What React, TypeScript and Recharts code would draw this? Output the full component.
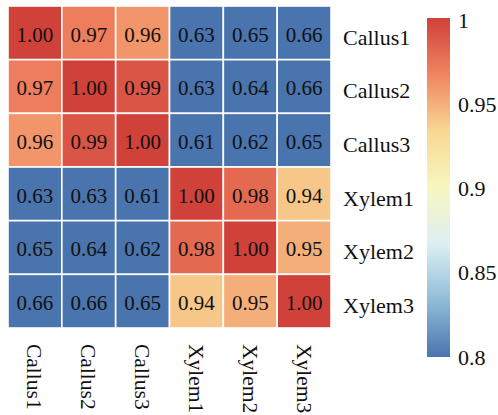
import { ScatterChart, Scatter, XAxis, YAxis, Customized } from "recharts";

const SAMPLES = ["Callus1", "Callus2", "Callus3", "Xylem1", "Xylem2", "Xylem3"];

// correlation rows, same order as SAMPLES
const CALLUS1 = [1.0, 0.97, 0.96, 0.63, 0.65, 0.66];
const CALLUS2 = [0.97, 1.0, 0.99, 0.63, 0.64, 0.66];
const CALLUS3 = [0.96, 0.99, 1.0, 0.61, 0.62, 0.65];
const XYLEM1 = [0.63, 0.63, 0.61, 1.0, 0.98, 0.94];
const XYLEM2 = [0.65, 0.64, 0.62, 0.98, 1.0, 0.95];
const XYLEM3 = [0.66, 0.66, 0.65, 0.94, 0.95, 1.0];
const ROWS = [CALLUS1, CALLUS2, CALLUS3, XYLEM1, XYLEM2, XYLEM3];

const SCALE_MIN = 0.8;
const SCALE_MAX = 1;
const SCALE_TICKS = [1, 0.95, 0.9, 0.85, 0.8];
// RdYlBu-like ramp, low -> high
const PALETTE = ["#4a74ad", "#90bcd8", "#dcf0f2", "#f7f7c0", "#f8d892", "#f08460", "#d0413a"];

const W = 498;
const H = 415;
const PLOT = { left: 8, top: 6, right: 331, bottom: 328 };
const Y_AXIS_W = 90;
const X_AXIS_H = 80;
const CELL_W = (PLOT.right - PLOT.left) / SAMPLES.length;
const CELL_H = (PLOT.bottom - PLOT.top) / SAMPLES.length;
const BAR = { x: 427, w: 23, top: 18, bottom: 357 };
const FONT = "Liberation Serif, Times New Roman, Times, serif";

function hexToRgb(h: string) {
  const n = parseInt(h.slice(1), 16);
  return [(n >> 16) & 255, (n >> 8) & 255, n & 255];
}

function colorFor(v: number) {
  const t = Math.max(0, Math.min(1, (v - SCALE_MIN) / (SCALE_MAX - SCALE_MIN)));
  const pos = t * (PALETTE.length - 1);
  const i = Math.min(PALETTE.length - 2, Math.floor(pos));
  const f = pos - i;
  const a = hexToRgb(PALETTE[i]);
  const b = hexToRgb(PALETTE[i + 1]);
  const c = a.map((av, k) => Math.round(av + (b[k] - av) * f));
  return `rgb(${c[0]},${c[1]},${c[2]})`;
}

const points = ROWS.flatMap((row, i) =>
  row.map((v, j) => ({ x: j + 0.5, y: i + 0.5, v }))
);
const centerTicks = SAMPLES.map((_, i) => i + 0.5);

function CellShape(props: any) {
  const { cx, cy, payload } = props;
  return (
    <g>
      <rect
        x={cx - CELL_W / 2}
        y={cy - CELL_H / 2}
        width={CELL_W}
        height={CELL_H}
        fill={colorFor(payload.v)}
        stroke="#fff"
        strokeWidth={1.6}
      />
      <text
        x={cx}
        y={cy + 1.5}
        dy="0.35em"
        textAnchor="middle"
        style={{ fontFamily: FONT, fontSize: 21 }}
        fill="#111"
      >
        {payload.v.toFixed(2)}
      </text>
    </g>
  );
}

function XTick(props: any) {
  const { x, payload } = props;
  const label = SAMPLES[Math.floor(payload.value)];
  const y0 = PLOT.bottom + 16;
  return (
    <text
      x={x}
      y={y0}
      dy="0.35em"
      transform={`rotate(90, ${x}, ${y0})`}
      textAnchor="start"
      style={{ fontFamily: FONT, fontSize: 21.5 }}
      fill="#111"
    >
      {label}
    </text>
  );
}

function YTick(props: any) {
  const { y, payload } = props;
  const label = SAMPLES[Math.floor(payload.value)];
  return (
    <text
      x={PLOT.right + 12}
      y={y + 4}
      dy="0.35em"
      textAnchor="start"
      style={{ fontFamily: FONT, fontSize: 22 }}
      fill="#111"
    >
      {label}
    </text>
  );
}

function ColorBar() {
  const span = BAR.bottom - BAR.top;
  return (
    <g>
      <defs>
        <linearGradient id="cbar" x1="0" y1="1" x2="0" y2="0">
          {PALETTE.map((c, i) => (
            <stop key={i} offset={i / (PALETTE.length - 1)} stopColor={c} />
          ))}
        </linearGradient>
      </defs>
      <rect x={BAR.x} y={BAR.top} width={BAR.w} height={span} fill="url(#cbar)" />
      {SCALE_TICKS.map((t) => {
        const y = BAR.bottom - ((t - SCALE_MIN) / (SCALE_MAX - SCALE_MIN)) * (span - 2);
        return (
          <text
            key={t}
            x={BAR.x + BAR.w + 8}
            y={y}
            dy="0.35em"
            style={{ fontFamily: FONT, fontSize: 22 }}
            fill="#111"
          >
            {String(t)}
          </text>
        );
      })}
    </g>
  );
}

export default function App() {
  return (
    <div style={{ width: W, height: H, background: "#fff", fontFamily: FONT }}>
      <style>{"body{margin:0}"}</style>
      <ScatterChart
        width={W}
        height={H}
        margin={{
          top: PLOT.top,
          left: PLOT.left,
          right: W - PLOT.right - Y_AXIS_W,
          bottom: H - PLOT.bottom - X_AXIS_H,
        }}
      >
        <XAxis
          type="number"
          dataKey="x"
          domain={[0, SAMPLES.length]}
          ticks={centerTicks}
          interval={0}
          axisLine={false}
          tickLine={false}
          height={X_AXIS_H}
          tick={<XTick />}
        />
        <YAxis
          type="number"
          dataKey="y"
          domain={[0, SAMPLES.length]}
          ticks={centerTicks}
          interval={0}
          reversed
          orientation="right"
          axisLine={false}
          tickLine={false}
          width={Y_AXIS_W}
          tick={<YTick />}
        />
        <Scatter data={points} shape={<CellShape />} isAnimationActive={false} />
        <Customized component={<ColorBar />} />
      </ScatterChart>
    </div>
  );
}
